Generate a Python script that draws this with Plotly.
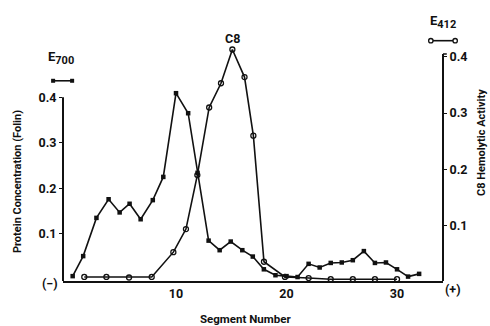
import plotly.graph_objects as go

# E700 protein concentration (Folin), left axis
seg_protein = [0.65, 1.6, 2.8, 3.9, 4.9, 5.8, 6.8, 7.9, 8.85, 10, 11.1, 11.95, 12.95,
               13.95, 14.95, 16, 16.95, 17.95, 19.0, 20, 21, 22, 23, 24, 25, 26, 27,
               28, 29, 30, 31, 32]
protein = [0.007, 0.051, 0.135, 0.176, 0.147, 0.166, 0.132, 0.174, 0.225, 0.409, 0.365,
           0.234, 0.085, 0.064, 0.083, 0.064, 0.050, 0.022, 0.009, 0.007, 0.005, 0.034,
           0.026, 0.036, 0.037, 0.042, 0.062, 0.036, 0.037, 0.022, 0.006, 0.012]

# E412 C8 hemolytic activity, right axis
seg_activity = [1.7, 3.7, 5.75, 7.8, 9.76, 10.9, 11.93, 13.0, 14.07, 15.1, 16.2, 17.0,
                17.96, 19.86, 22, 24, 26, 28, 30]
activity = [0.009, 0.009, 0.008, 0.009, 0.053, 0.094, 0.190, 0.310, 0.353, 0.413, 0.364,
            0.260, 0.036, 0.009, 0.007, 0.005, 0.005, 0.005, 0.005]

x_ticks = [10, 20, 30]
y_ticks = [0.1, 0.2, 0.3, 0.4]
y_tick_text = ["0.1", "0.2", "0.3", "0.4"]

FONT = "Roboto, Liberation Sans, sans-serif"
INK = "#111111"

fig = go.Figure()
fig.add_trace(go.Scatter(
    x=seg_protein, y=protein, mode="lines+markers", yaxis="y",
    line=dict(color=INK, width=1.6),
    marker=dict(symbol="square", size=4.5, color=INK),
    cliponaxis=False, showlegend=False))
fig.add_trace(go.Scatter(
    x=seg_activity, y=activity, mode="lines+markers", yaxis="y2",
    line=dict(color=INK, width=1.6),
    marker=dict(symbol="circle-open", size=5, color=INK, line=dict(width=1.3)),
    cliponaxis=False, showlegend=False))

tickfont = dict(size=12.5, family=FONT, weight="bold")

fig.update_layout(
    width=490, height=326,
    margin=dict(l=63, r=47, t=46, b=45),
    paper_bgcolor="white", plot_bgcolor="white",
    font=dict(family=FONT, size=12, color=INK),
    xaxis=dict(range=[-0.226, 34.16], tickvals=x_ticks, ticktext=[str(v) for v in x_ticks],
               showgrid=False, zeroline=False, showline=True, linecolor=INK, linewidth=2,
               ticks="", ticklen=0, tickfont=tickfont),
    yaxis=dict(range=[-0.0037, 0.5127], tickvals=y_ticks, ticktext=y_tick_text,
               showgrid=False, zeroline=False, showline=False,
               ticks="outside", ticklen=3, tickwidth=1.2, tickcolor=INK,
               tickfont=tickfont),
    yaxis2=dict(range=[0.00178, 0.4192], overlaying="y", side="right",
                tickvals=y_ticks, ticktext=y_tick_text,
                showgrid=False, zeroline=False, showline=False,
                ticks="outside", ticklen=3, tickwidth=1.2, tickcolor=INK,
                tickfont=tickfont),
)

shapes = [
    # left axis line (to 0.4 only)
    dict(type="line", xref="paper", yref="y", x0=0, x1=0, y0=-0.0037, y1=0.4,
         line=dict(color=INK, width=2)),
    # right axis line (to just above 0.4)
    dict(type="line", xref="paper", yref="y2", x0=1, x1=1, y0=0.00178, y1=0.405,
         line=dict(color=INK, width=2)),
    dict(type="line", xref="paper", yref="y2", x0=1, x1=1.01, y0=0.405, y1=0.405,
         line=dict(color=INK, width=1.5)),
    # legend glyph E700
    dict(type="line", xref="paper", yref="paper", x0=-0.026, x1=0.024, y0=0.852, y1=0.852,
         line=dict(color=INK, width=1.6)),
    # legend glyph E412
    dict(type="line", xref="paper", yref="paper", x0=0.968, x1=1.032, y0=1.0226, y1=1.0226,
         line=dict(color=INK, width=1.6)),
]
for xp in (-0.026, 0.024):
    shapes.append(dict(type="rect", xref="paper", yref="paper",
                       x0=xp - 0.0053, x1=xp + 0.0053, y0=0.852 - 0.0085, y1=0.852 + 0.0085,
                       fillcolor=INK, line=dict(width=0)))
for xp in (0.968, 1.032):
    shapes.append(dict(type="circle", xref="paper", yref="paper",
                       x0=xp - 0.0058, x1=xp + 0.0058, y0=1.0226 - 0.0094, y1=1.0226 + 0.0094,
                       fillcolor="white", line=dict(color=INK, width=1.3)))
fig.update_layout(shapes=shapes)

ann = [
    dict(text="E<sub><span style='font-size:11px'>700</span></sub>", x=-0.006, y=0.949, size=13),
    dict(text="E<sub><span style='font-size:11px'>412</span></sub>", x=1.0, y=1.102, size=13),
    dict(text="C8", x=0.445, y=1.034, size=12.5),
    dict(text="(−)", x=-0.034, y=-0.009, size=12.5),
    dict(text="(+)", x=1.026, y=-0.038, size=12.5),
    dict(text="Segment Number", x=0.479, y=-0.162, size=11.5),
]
annotations = []
for a in ann:
    annotations.append(dict(text=a["text"], x=a["x"], y=a["y"], xref="paper", yref="paper",
                            showarrow=False, xanchor="center", yanchor="middle",
                            font=dict(family=FONT, size=a["size"], color=INK, weight="bold")))
annotations.append(dict(text="Protein Concentration (Folin)", x=-0.121, y=0.421,
                        xref="paper", yref="paper", showarrow=False, textangle=-90,
                        xanchor="center", yanchor="middle",
                        font=dict(family=FONT, size=11, color=INK, weight="bold")))
annotations.append(dict(text="C8 Hemolytic Activity", x=1.100, y=0.587,
                        xref="paper", yref="paper", showarrow=False, textangle=-90,
                        xanchor="center", yanchor="middle",
                        font=dict(family=FONT, size=11, color=INK, weight="bold")))
fig.update_layout(annotations=annotations)

fig.write_html("out.html")
